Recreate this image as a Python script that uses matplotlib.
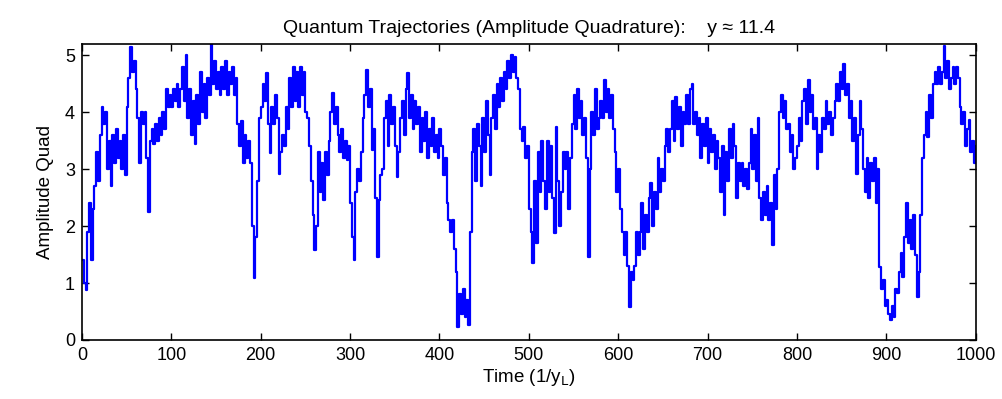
import numpy as np
import matplotlib
matplotlib.use('Agg')
from matplotlib import pyplot as plt

# time axis, one sample every 2 units of 1/y_L
time = np.arange(0, 1001, 2)

amp_0_100 = [1.4, 1.0, 0.88, 1.9, 2.4, 1.4, 2.3, 2.7, 3.3, 2.8,
             3.6, 4.1, 3.8, 4.0, 3.0, 3.5, 2.7, 3.6, 3.1, 3.7,
             3.2, 3.5, 3.0, 3.6, 2.9, 4.1, 4.6, 5.14, 4.7, 4.9,
             4.4, 3.9, 3.1, 4.0, 3.8, 4.0, 3.2, 2.25, 3.5, 3.7,
             3.45, 3.8, 3.5, 3.9, 3.6, 4.0, 3.7, 4.4, 4.1, 4.3]
amp_100_200 = [4.1, 4.4, 4.2, 4.5, 4.1, 4.4, 4.8, 4.2, 5.0, 3.9,
               4.4, 3.6, 4.2, 3.45, 4.3, 3.8, 4.7, 4.0, 4.5, 3.9,
               4.6, 4.3, 5.2, 4.5, 4.9, 4.4, 4.7, 4.3, 4.8, 4.4,
               4.9, 4.3, 4.7, 4.5, 4.8, 4.3, 4.6, 3.8, 3.4, 3.85,
               3.1, 3.6, 3.2, 3.5, 3.1, 2.0, 1.08, 1.8, 2.8, 3.9]
amp_200_300 = [4.1, 4.5, 4.2, 4.68, 3.8, 3.28, 4.1, 3.8, 4.3, 3.9,
               2.92, 3.3, 3.6, 3.4, 4.1, 3.7, 4.6, 4.1, 4.8, 4.2,
               4.7, 4.1, 4.8, 4.3, 4.7, 4.0, 3.9, 3.4, 2.8, 2.2,
               1.58, 2.0, 3.3, 2.6, 3.1, 2.45, 3.3, 2.9, 3.5, 4.0,
               4.33, 3.8, 4.1, 3.6, 3.3, 3.7, 3.2, 3.5, 3.16, 3.4]
amp_300_400 = [2.4, 1.8, 1.4, 2.6, 3.0, 2.8, 3.3, 3.9, 4.3, 4.74,
               4.1, 4.4, 3.33, 3.7, 2.5, 1.46, 2.45, 2.9, 3.0, 3.9,
               4.2, 3.4, 4.3, 3.8, 4.1, 3.4, 2.87, 3.3, 3.9, 4.2,
               3.6, 4.4, 4.68, 3.9, 4.3, 3.7, 4.2, 3.8, 4.1, 3.3,
               3.9, 3.5, 4.0, 3.2, 3.7, 3.4, 3.9, 3.3, 3.6, 3.2]
amp_400_500 = [3.7, 3.4, 2.9, 3.2, 2.4, 2.1, 1.9, 2.1, 1.6, 1.2,
               0.23, 0.8, 0.45, 0.9, 0.4, 0.7, 0.26, 1.9, 3.3, 3.7,
               2.8, 3.8, 3.4, 2.7, 3.9, 3.3, 4.2, 3.6, 2.9, 3.9,
               4.3, 3.7, 4.5, 4.1, 4.6, 4.2, 4.7, 4.4, 4.9, 4.6,
               5.0, 4.7, 4.97, 4.6, 4.4, 3.7, 3.5, 3.74, 3.2, 3.4]
amp_500_600 = [2.3, 1.9, 1.35, 2.8, 1.7, 3.3, 2.6, 3.5, 2.8, 2.3,
               3.5, 2.6, 3.4, 2.5, 1.87, 3.74, 2.8, 2.0, 2.6, 3.3,
               3.0, 3.3, 2.3, 3.2, 3.8, 4.3, 3.7, 4.4, 3.9, 4.2,
               3.6, 3.9, 3.2, 1.46, 3.0, 4.0, 3.6, 4.4, 3.7, 3.9,
               4.2, 3.9, 4.56, 4.0, 4.4, 3.9, 4.3, 3.7, 3.3, 2.6]
amp_600_700 = [3.0, 2.3, 1.9, 1.5, 1.9, 1.3, 0.58, 1.2, 1.05, 1.3,
               1.9, 1.5, 1.9, 2.4, 1.6, 2.2, 1.9, 2.5, 2.75, 2.0,
               2.6, 2.3, 3.2, 2.6, 3.0, 2.8, 3.4, 3.7, 3.3, 3.7,
               4.2, 3.5, 4.27, 3.7, 4.1, 3.4, 4.0, 3.8, 4.3, 3.8,
               4.4, 4.5, 3.8, 4.0, 3.6, 3.9, 3.2, 3.8, 3.4, 3.9]
amp_700_800 = [3.1, 3.7, 3.3, 3.6, 3.0, 3.5, 3.2, 2.6, 3.4, 2.2,
               3.3, 2.8, 3.7, 3.2, 3.8, 3.4, 2.5, 3.1, 2.8, 3.1,
               2.7, 3.0, 2.65, 3.1, 3.7, 3.0, 3.6, 2.8, 3.9, 2.5,
               2.1, 2.6, 2.2, 2.7, 2.1, 2.4, 1.67, 2.9, 2.3, 3.0,
               4.0, 4.3, 3.9, 4.2, 3.7, 3.8, 3.3, 3.6, 3.0, 3.2]
amp_800_900 = [3.4, 3.9, 3.5, 4.2, 4.4, 3.8, 4.56, 4.0, 4.3, 3.7,
               3.9, 3.0, 3.6, 3.3, 3.9, 3.7, 4.2, 3.8, 4.0, 3.6,
               3.9, 4.2, 4.5, 4.2, 4.7, 4.4, 4.85, 4.3, 4.5, 3.9,
               4.2, 3.5, 3.9, 2.92, 3.6, 4.2, 3.7, 3.0, 2.6, 3.2,
               2.5, 3.1, 2.8, 3.2, 2.4, 3.0, 1.29, 0.9, 1.05, 0.6]
amp_900_1000 = [0.7, 0.45, 0.35, 0.6, 0.4, 0.9, 0.82, 1.2, 1.52, 1.1,
                1.8, 2.4, 1.7, 2.1, 1.6, 2.2, 1.5, 0.76, 1.2, 2.2,
                3.2, 3.6, 4.0, 3.57, 4.3, 3.9, 4.5, 4.7, 4.5, 4.8,
                4.5, 4.7, 5.17, 4.6, 4.9, 4.4, 4.6, 4.8, 4.5, 4.8,
                4.6, 4.1, 3.8, 4.0, 3.4, 3.7, 3.86, 3.3, 3.5, 3.1,
                3.4]

amplitude = (amp_0_100 + amp_100_200 + amp_200_300 + amp_300_400 +
             amp_400_500 + amp_500_600 + amp_600_700 + amp_700_800 +
             amp_800_900 + amp_900_1000)

plt.rcParams['font.family'] = ['Liberation Sans', 'DejaVu Sans']

fig = plt.figure(figsize=(10.02, 3.99), dpi=100)
ax = fig.add_axes([0.0818, 0.148, 0.892, 0.742])
ax.plot(time, amplitude, color='#0000ff', linewidth=1.6,
        drawstyle='steps-post')

ax.set_xlim(0, 1000)
ax.set_ylim(0, 5.2)
ax.set_xticks(np.arange(0, 1001, 100))
ax.set_yticks(np.arange(0, 6, 1))
ax.tick_params(direction='in', top=True, right=True, length=5,
               labelsize=13, width=1, pad=5)
for spine in ax.spines.values():
    spine.set_linewidth(1.2)

ax.set_title('Quantum Trajectories (Amplitude Quadrature):    y \u2248 11.4',
             fontsize=14, pad=8)
ax.set_xlabel('Time (1/y$_\\mathrm{L}$)', fontsize=13.5, labelpad=2)
ax.set_ylabel('Amplitude Quad', fontsize=13.5, labelpad=8)

fig.savefig('out.png', dpi=100)
